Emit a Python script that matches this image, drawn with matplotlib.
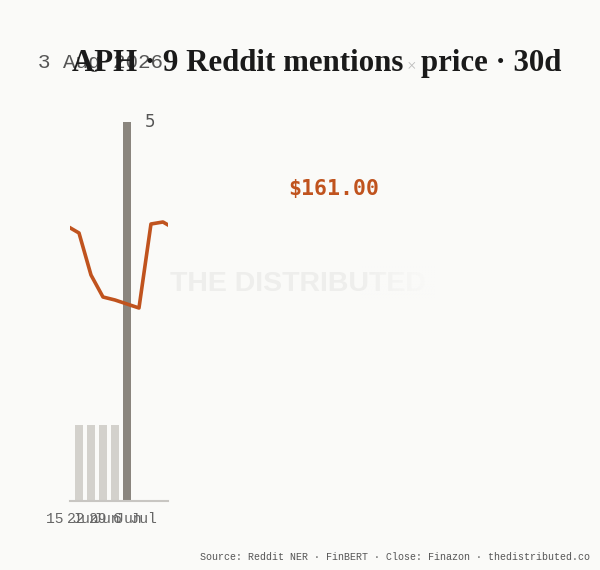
import numpy as np
import matplotlib
matplotlib.use('Agg')
import matplotlib.pyplot as plt
from matplotlib.colors import to_rgb

# day index, reddit mention counts, close prices
days = [1, 2, 3, 4, 5]
mentions = [1, 1, 1, 1, 5]
price_days = [0, 1, 2, 3, 4, 5, 6, 7, 8, 9]
price = [161.30, 160.60, 156.40, 154.20, 153.90, 153.50, 153.10, 161.50, 161.70, 161.00]
tick_pos = [0.4, 2.2, 4.0, 5.7]
tick_labels = ['15 Jun', '22 Jun', '29 Jun', '6 Jul']

bg = '#FAFAF8'
orange = '#C0531E'
light_bar = '#D3D1CC'
dark_bar = '#8A857E'
mono = 'Liberation Mono'

fig = plt.figure(figsize=(6, 5.7), dpi=100, facecolor=bg)
ax = fig.add_axes([70/600, 69/570, 98/600, 379/570])
ax.set_facecolor('none')

cols = [dark_bar if m == max(mentions) else light_bar for m in mentions]
ax.bar(days, mentions, width=0.67, color=cols, zorder=2)
ax.set_ylim(0, max(mentions))
ax.set_xlim(0.25, 8.42)
for s in ['top', 'right', 'left']:
    ax.spines[s].set_visible(False)
ax.spines['bottom'].set_color('#C8C6C2')
ax.spines['bottom'].set_linewidth(1.5)
ax.set_yticks([])
ax.set_xticks(tick_pos)
ax.set_xticklabels(tick_labels, family=mono, fontsize=10.5, color='#666666')
ax.tick_params(axis='x', length=0, pad=8)

imax = int(np.argmax(mentions))
ax.annotate(str(mentions[imax]), xy=(days[imax], mentions[imax]), xytext=(13, 0),
            textcoords='offset points', ha='left', va='center', fontsize=12,
            color='#555555', zorder=5)

ax2 = ax.twinx()
ax2.plot(price_days, price, color=orange, lw=2.6, zorder=4)
ax2.set_ylim(133.8, 171.7)
ax2.set_xlim(0.25, 8.42)
ax2.axis('off')

fig.text(334/600, 1 - 189/570, '$%.2f' % price[-1], family='DejaVu Sans Mono', fontsize=15.5,
         fontweight='bold', color=orange, ha='center', va='center')

# watermark, fading out on the right
fig.text(298/600, 1 - 284/570, 'THE DISTRIBUTED', family='Liberation Sans', fontsize=20.5,
         fontweight='bold', color='#EEEEEC', ha='center', va='center', zorder=0)
fade = fig.add_axes([360/600, 1 - 302/570, 75/600, 36/570], zorder=1)
grad = np.zeros((1, 100, 4))
grad[..., :3] = to_rgb(bg)
grad[..., 3] = np.linspace(0, 1, 100) ** 0.8
fade.imshow(grad, aspect='auto', extent=(0, 1, 0, 1))
fade.axis('off')

fig.text(38/600, 1 - 63/570, '3 Aug 2026', family=mono, fontsize=15, color='#555555',
         ha='left', va='center')

# title pieces
fig.canvas.draw()
r = fig.canvas.get_renderer()
y_t = 1 - 71/570
x = 72
parts = [('APH · 9 Reddit mentions', '#1A1A1A', 22.2, 'bold'),
         (' × ', '#BBBBBB', 12, 'normal'),
         ('price · 30d', '#1A1A1A', 22.2, 'bold')]
for txt, c, fs, fw in parts:
    t = fig.text(x/600, y_t, txt, family='Liberation Serif', fontsize=fs,
                 fontweight=fw, color=c, ha='left', va='baseline')
    bb = t.get_window_extent(renderer=r)
    x += bb.width

fig.text(590/600, 1 - 557/570, 'Source: Reddit NER · FinBERT · Close: Finazon · thedistributed.co',
         family=mono, fontsize=7.2, color='#555555', ha='right', va='center')

fig.savefig('out.png', dpi=100, facecolor=bg)
